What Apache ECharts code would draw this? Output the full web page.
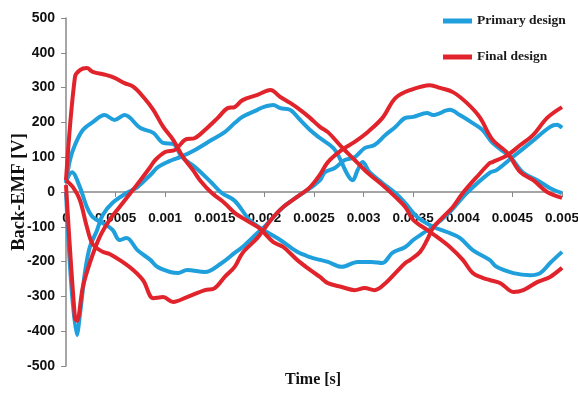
<!DOCTYPE html>
<html>
<head>
<meta charset="utf-8">
<script src="https://cdn.jsdelivr.net/npm/echarts@6/dist/echarts.min.js"></script>
<style>
  html, body { margin: 0; padding: 0; background: #ffffff; }
  #chart { width: 578px; height: 394px; }
</style>
</head>
<body>
<div id="chart"></div>
<script>
// Back-EMF waveforms of the three phases, [time (s), voltage (V)]
const seriesNames = ['Primary design', 'Final design'];

const primaryA = [[0,26],[0.00004,92],[0.00009,135],[0.00017,178],[0.00027,201],[0.00039,221],[0.00049,207],[0.00059,221],[0.00075,184],[0.00088,170],[0.00098,141],[0.00108,138],[0.00117,100],[0.0013,72],[0.00147,26],[0.00157,-3],[0.0017,-25],[0.00185,-80],[0.00199,-109],[0.00216,-138],[0.00233,-172],[0.00246,-187],[0.00256,-195],[0.00264,-201],[0.00278,-215],[0.00294,-201],[0.00308,-201],[0.00319,-204],[0.00329,-175],[0.00342,-158],[0.0035,-138],[0.0036,-118],[0.0037,-100],[0.00387,-57],[0.00404,-3],[0.00427,55],[0.00434,63],[0.0045,100],[0.00468,141],[0.00488,187],[0.00495,193],[0.005,184]];

const primaryB = [[0,0],[0.00011,-411],[0.00015,-330],[0.00019,-233],[0.00024,-158],[0.00031,-112],[0.00037,-66],[0.00047,-31],[0.00061,-3],[0.00072,14],[0.00085,49],[0.00093,72],[0.00107,92],[0.00115,100],[0.0013,121],[0.00147,150],[0.0016,172],[0.0017,198],[0.00178,216],[0.00193,236],[0.00199,244],[0.00209,250],[0.00216,241],[0.00226,236],[0.00236,207],[0.00246,178],[0.00256,155],[0.00271,121],[0.00284,49],[0.00289,34],[0.00294,63],[0.00299,86],[0.00306,57],[0.00319,26],[0.00332,-3],[0.00342,-32],[0.00354,-72],[0.0037,-100],[0.00384,-115],[0.00397,-132],[0.0041,-167],[0.00427,-195],[0.00434,-215],[0.00451,-233],[0.00468,-239],[0.00478,-233],[0.00488,-204],[0.005,-172]];

const primaryC = [[0,30],[0.00006,57],[0.00014,14],[0.00021,-43],[0.00027,-72],[0.00037,-89],[0.00047,-109],[0.00054,-138],[0.00061,-132],[0.00072,-167],[0.00085,-195],[0.00092,-215],[0.00105,-230],[0.00113,-233],[0.00122,-224],[0.0014,-230],[0.00157,-204],[0.0017,-175],[0.00178,-158],[0.00193,-118],[0.00199,-103],[0.00209,-72],[0.00219,-43],[0.00233,-14],[0.00246,11],[0.00256,34],[0.00261,57],[0.00271,69],[0.00281,92],[0.00291,100],[0.00301,126],[0.00311,135],[0.00322,164],[0.00332,187],[0.00342,213],[0.0035,216],[0.00364,227],[0.0037,221],[0.00387,236],[0.00397,221],[0.0041,198],[0.0042,178],[0.0043,141],[0.00448,100],[0.00461,55],[0.00475,34],[0.00488,11],[0.005,-3]];

const finalA = [[0,34],[0.00009,330],[0.00014,350],[0.00021,356],[0.00027,345],[0.00041,336],[0.00049,328],[0.00059,313],[0.00068,302],[0.00078,273],[0.00088,236],[0.00098,187],[0.00108,150],[0.00118,100],[0.00128,63],[0.00135,34],[0.00147,-3],[0.0016,-32],[0.0017,-60],[0.00178,-75],[0.00193,-100],[0.00199,-115],[0.00209,-144],[0.00219,-158],[0.00233,-195],[0.00246,-224],[0.00256,-244],[0.00264,-262],[0.00278,-273],[0.00291,-282],[0.00301,-276],[0.00311,-282],[0.00322,-262],[0.00332,-233],[0.00342,-204],[0.00347,-195],[0.00357,-172],[0.00364,-138],[0.0037,-103],[0.0038,-72],[0.0039,-43],[0.004,-3],[0.00414,43],[0.00427,83],[0.0043,86],[0.00445,106],[0.00458,135],[0.00471,164],[0.00485,213],[0.005,244]];

const finalB = [[0,20],[0.00009,-362],[0.00011,-370],[0.00017,-273],[0.00024,-204],[0.00034,-129],[0.00044,-80],[0.00054,-43],[0.00065,-3],[0.00075,34],[0.00085,72],[0.0009,92],[0.001,115],[0.0011,121],[0.0012,150],[0.0013,155],[0.0014,178],[0.00153,213],[0.00163,241],[0.0017,244],[0.00178,264],[0.00193,279],[0.00206,293],[0.00216,273],[0.00226,256],[0.00236,236],[0.00246,213],[0.00256,187],[0.00264,172],[0.00278,129],[0.00291,92],[0.00304,55],[0.00319,20],[0.00332,-14],[0.00342,-43],[0.0035,-80],[0.00364,-109],[0.00374,-129],[0.00387,-158],[0.004,-195],[0.0041,-233],[0.0042,-247],[0.00427,-253],[0.00438,-262],[0.00451,-287],[0.00461,-282],[0.00475,-259],[0.00488,-244],[0.005,-218]];

const finalC = [[0,34],[0.00007,14],[0.00014,-23],[0.00021,-100],[0.00027,-150],[0.00037,-172],[0.00044,-178],[0.00057,-201],[0.00068,-225],[0.00078,-255],[0.00088,-305],[0.00098,-302],[0.00108,-316],[0.00122,-302],[0.0014,-282],[0.0015,-276],[0.0016,-244],[0.0017,-215],[0.00178,-175],[0.00193,-132],[0.00199,-109],[0.00209,-72],[0.00219,-43],[0.00233,-14],[0.00246,14],[0.00256,50],[0.00264,86],[0.00278,121],[0.00291,144],[0.00304,172],[0.00319,213],[0.00332,270],[0.00347,293],[0.00367,307],[0.00377,299],[0.0039,287],[0.00404,256],[0.00417,215],[0.0043,150],[0.00445,112],[0.00458,57],[0.00471,34],[0.00485,0],[0.005,-17]];

const colors = { 'Primary design': '#1f9fdb', 'Final design': '#e1232b' };
const tickFont = '"Liberation Sans", Arial, sans-serif';
const titleFont = '"Liberation Serif", "DejaVu Serif", serif';

const gridTop = 18;
const gridHeight = 348;

function phase(name, data) {
  return {
    name: name,
    type: 'line',
    data: data,
    smooth: 0.35,
    showSymbol: false,
    lineStyle: { width: 4, color: colors[name] },
    itemStyle: { color: colors[name] },
    emphasis: { disabled: true },
    animation: false
  };
}

const chart = echarts.init(document.getElementById('chart'), null, { renderer: 'canvas' });
chart.setOption({
  backgroundColor: '#ffffff',
  animation: false,
  grid: { left: 66, right: 16, top: gridTop, height: gridHeight, containLabel: false, outerBoundsMode: 'none' },
  legend: {
    data: seriesNames,
    orient: 'vertical',
    left: 438,
    top: 8,
    itemGap: 20,
    itemWidth: 29,
    itemHeight: 5,
    icon: 'rect',
    textStyle: { fontFamily: titleFont, fontWeight: 'bold', fontSize: 13.5, color: '#1a1a1a', lineHeight: 16 }
  },
  xAxis: {
    type: 'value',
    min: 0,
    max: 0.005,
    interval: 0.0005,
    position: 'bottom',
    // the axis sits on the 0 V line, half way up the plot
    offset: -gridHeight / 2,
    axisLine: { onZero: false, lineStyle: { color: '#888888', width: 1.5 } },
    axisTick: { show: true, length: 5, lineStyle: { color: '#888888' } },
    axisLabel: {
      margin: 19,
      fontFamily: tickFont, fontWeight: 'bold', fontSize: 13.5, color: '#111111',
      formatter: v => String(+v.toFixed(4))
    },
    splitLine: { show: false }
  },
  yAxis: {
    type: 'value',
    min: -500,
    max: 500,
    interval: 100,
    name: 'Back-EMF [V]',
    nameLocation: 'middle',
    nameRotate: 90,
    nameGap: 37,
    nameMoveOverlap: false,
    nameTextStyle: { fontFamily: titleFont, fontWeight: 'bold', fontSize: 18.5, color: '#111111' },
    axisLine: { show: true, onZero: false, lineStyle: { color: '#888888', width: 1.5 } },
    axisTick: { show: true, length: 5, lineStyle: { color: '#888888' } },
    axisLabel: { margin: 11, fontFamily: tickFont, fontWeight: 'bold', fontSize: 14, color: '#111111' },
    splitLine: { show: false }
  },
  graphic: [{
    type: 'text',
    left: 285,
    top: 372,
    style: { text: 'Time [s]', font: 'bold 16px ' + titleFont, fill: '#111111' }
  }],
  series: [
    phase('Primary design', primaryA),
    phase('Primary design', primaryB),
    phase('Primary design', primaryC),
    phase('Final design', finalA),
    phase('Final design', finalB),
    phase('Final design', finalC)
  ]
});
</script>
</body>
</html>
